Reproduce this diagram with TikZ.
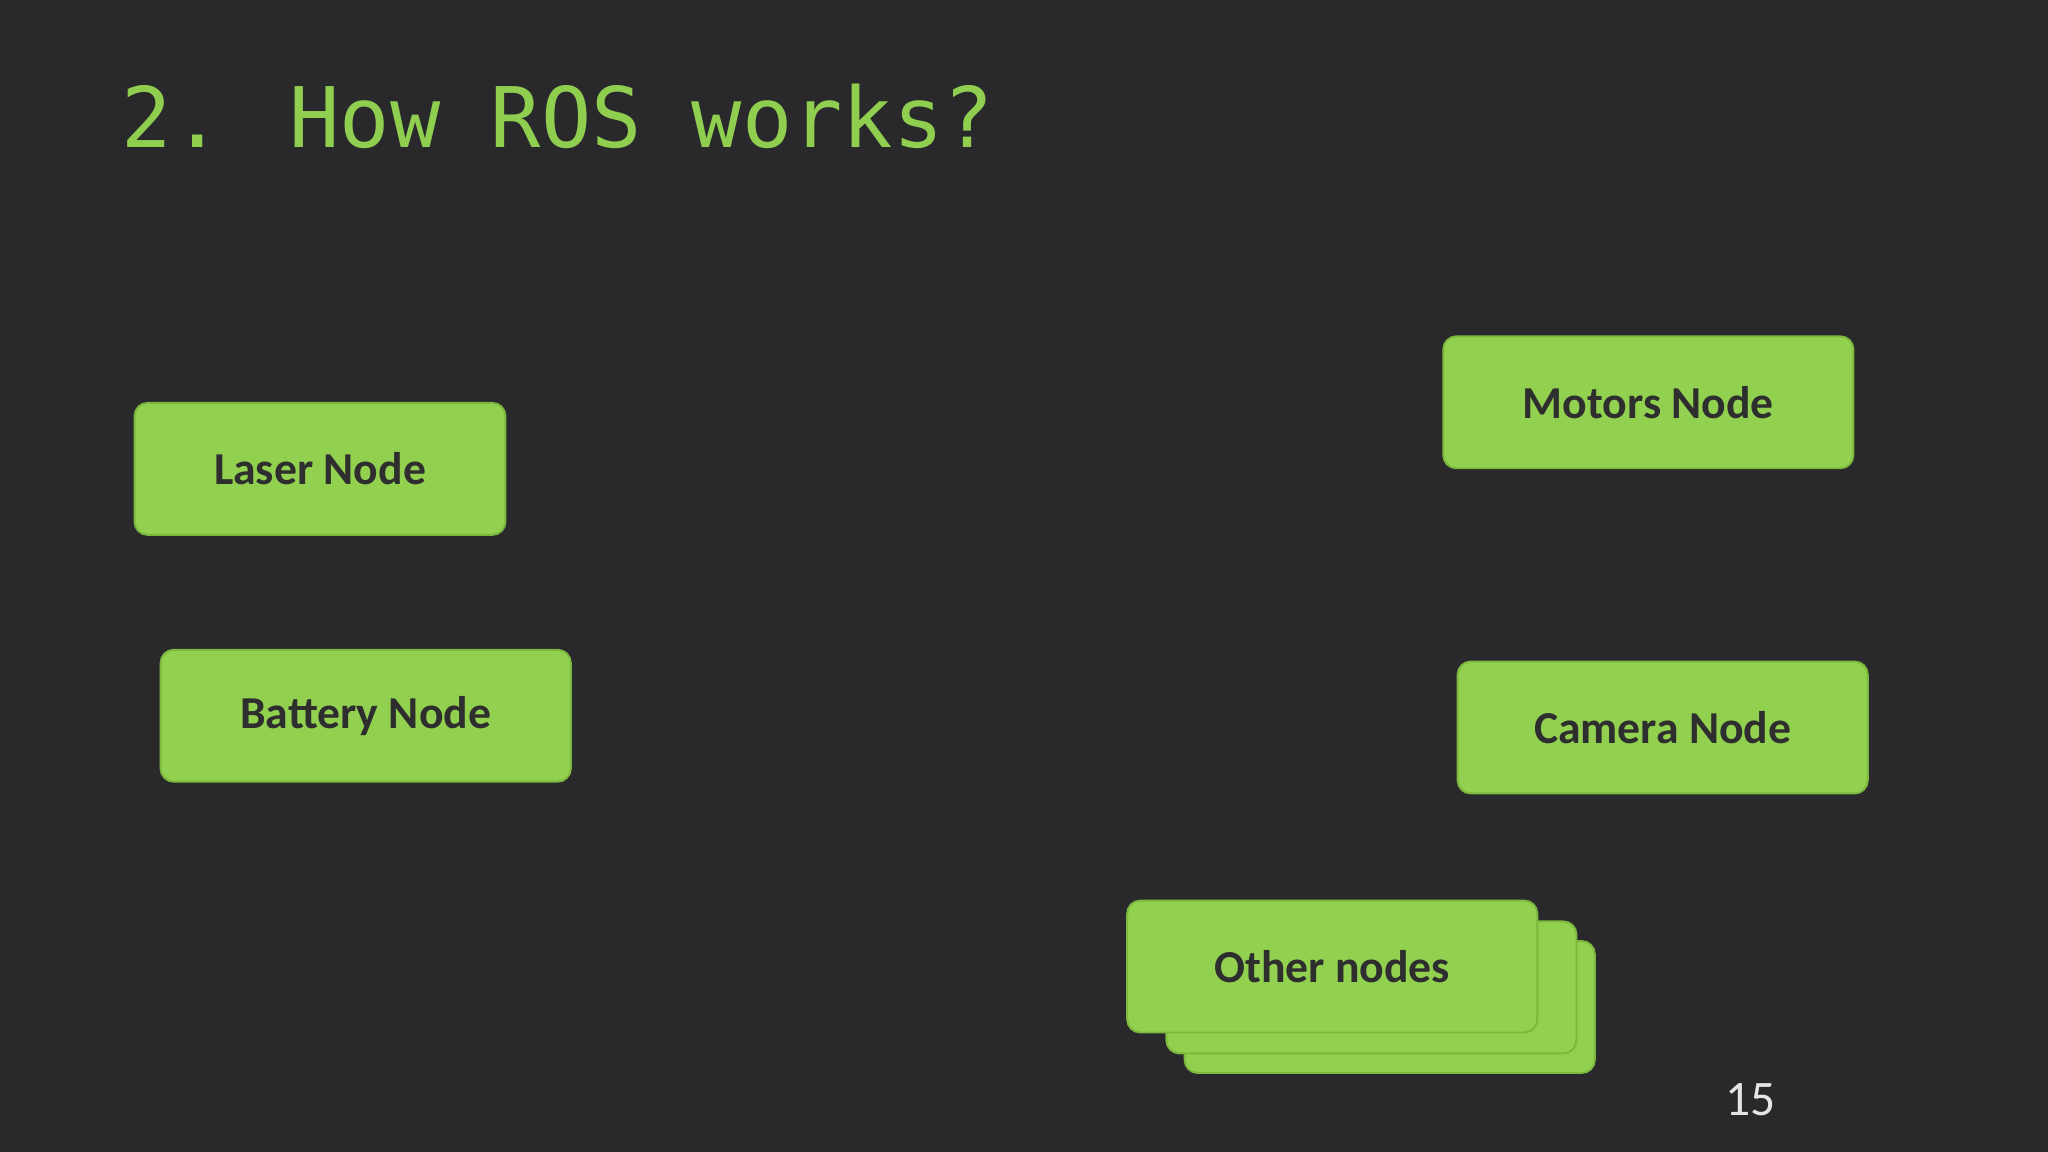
\documentclass[tikz,border=0pt]{standalone}
\usepackage{fontspec}
\setmainfont{Carlito}
\newfontfamily\monof{DejaVu Sans Mono}
\definecolor{bg}{HTML}{29292B}
\definecolor{grn}{HTML}{92D050}
\definecolor{grnb}{HTML}{7DB83E}
\definecolor{ttl}{HTML}{8FCE4F}
\definecolor{txt}{HTML}{2E2E2E}
\begin{document}
\begin{tikzpicture}[x=1pt,y=-1pt,
  nodebox/.style={draw=grnb,line width=1.5pt,fill=grn,rounded corners=10pt,minimum width=314pt,minimum height=101pt,inner sep=0pt,text=txt,font=\fontsize{35}{40}\selectfont\bfseries}]
\fill[bg] (0,0) rectangle (1568,882);
\useasboundingbox (0,0) rectangle (1568,882);
\node[anchor=base west,text=ttl,font=\monof\fontsize{64}{70}\selectfont,inner sep=0pt] (title) at (93,113) {2. How ROS works?};
\node[nodebox,minimum width=284pt] (laser) at (245,359) {Laser Node};
\node[nodebox] (battery) at (280,548) {Battery Node};
\node[nodebox] (motors) at (1262,308) {Motors Node};
\node[nodebox] (camera) at (1273,557) {Camera Node};
\node[nodebox] (o3) at (1064,771) {};
\node[nodebox] (o2) at (1050,756) {};
\node[nodebox] (other) at (1020,740) {Other nodes};
\node[text=white!90!black,font=\fontsize{38}{40}\selectfont] (pg) at (1340,842) {15};
\end{tikzpicture}
\end{document}
